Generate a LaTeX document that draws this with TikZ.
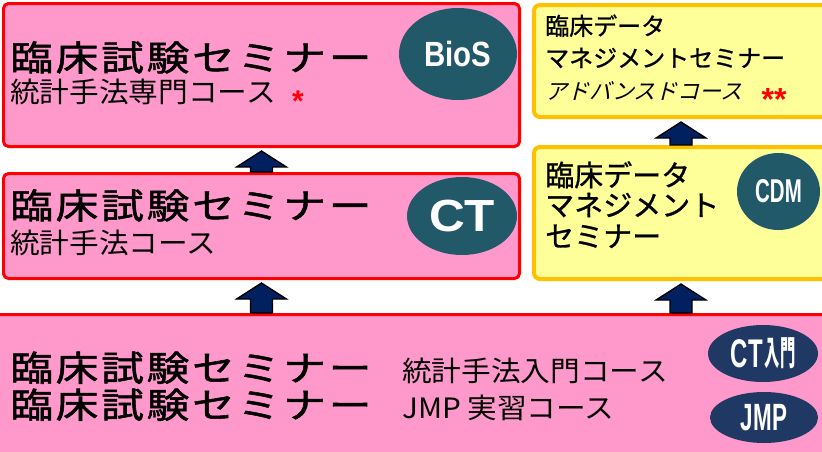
\documentclass[tikz,border=0pt]{standalone}
\usepackage{graphicx}
\usepackage{fontspec}
\setmainfont{Liberation Sans}
\newfontfamily\jp{Noto Sans CJK JP}
\newfontfamily\jph[FakeBold=1]{Noto Sans CJK JP}
\newfontfamily\jphw[FakeBold=1.5,FakeStretch=1.22,LetterSpace=8]{Noto Sans CJK JP}
\newfontfamily\jpw[FakeStretch=1.06]{Noto Sans CJK JP}
\newfontfamily\jpit[FakeSlant=0.25]{Noto Sans CJK JP}
\usetikzlibrary{shapes.geometric,calc}
\definecolor{pinkf}{HTML}{FF99CC}
\definecolor{redl}{HTML}{FF0000}
\definecolor{yelf}{HTML}{FFFF99}
\definecolor{orl}{HTML}{FFC000}
\definecolor{tealc}{HTML}{215968}
\definecolor{navyc}{HTML}{203864}
\definecolor{arrowc}{HTML}{002060}
\newcommand\blockarrow[2]{%
  \path[arrowst] let \p1=(#1.north), \p2=(#2.south) in
    (\x2-11pt,\y1) -- (\x2-11pt,\y2-19pt) -- (\x2-25pt,\y2-19pt) -- (\x2,\y2-3pt)
    -- (\x2+25pt,\y2-19pt) -- (\x2+11pt,\y2-19pt) -- (\x2+11pt,\y1) -- cycle;}
\begin{document}
\begin{tikzpicture}[x=1pt,y=-1pt,
  pinkbox/.style={draw=redl, fill=pinkf, line width=3pt, rounded corners=5pt, inner sep=0pt, anchor=north west},
  yelbox/.style={draw=orl, fill=yelf, line width=4pt, rounded corners=6pt, inner sep=0pt, anchor=north west},
  logoT/.style={ellipse, fill=tealc, text=white, inner sep=0pt, font=\bfseries},
  logoN/.style={ellipse, fill=navyc, text=white, inner sep=0pt, font=\bfseries},
  arrowst/.style={draw=black, fill=arrowc, line width=1.3pt, line join=miter},
  h1/.style={anchor=base west, inner sep=0pt, font=\jphw\fontsize{35}{40}\selectfont},
  h2/.style={anchor=base west, inner sep=0pt, font=\jpw\fontsize{28}{32}\selectfont},
  y1/.style={anchor=base west, inner sep=0pt, font=\jph\fontsize{24}{28}\selectfont},
  y2/.style={anchor=base west, inner sep=0pt, font=\jpit\fontsize{22}{26}\selectfont},
  c1/.style={anchor=base west, inner sep=0pt, font=\jph\fontsize{29}{32}\selectfont},
  star/.style={anchor=base, inner sep=0pt, text=redl, font=\bfseries\fontsize{30}{30}\selectfont}
]
\useasboundingbox (0,0) rectangle (822,451);
\clip (0,0) rectangle (822,451);
% boxes
\node[pinkbox, minimum width=516pt, minimum height=143pt] (bios) at (2,2) {};
\node[pinkbox, minimum width=516pt, minimum height=105pt] (ct) at (2,172) {};
\node[pinkbox, minimum width=838pt, minimum height=158pt] (base) at (-8,313) {};
\node[yelbox, minimum width=294pt, minimum height=112pt] (adv) at (532,3) {};
\node[yelbox, minimum width=294pt, minimum height=132pt] (cdm) at (532,145) {};
% arrows
\blockarrow{ct}{bios}
\blockarrow{base}{ct}
\blockarrow{cdm}{adv}
\blockarrow{base}{cdm}
% BioS box
\node[h1] (bt1) at (10,70.7) {臨床試験セミナー};
\node[h2] (bt2) at (10,102.6) {統計手法専門コース};
\node[star] (bst) at (298,111) {*};
\node[logoT, minimum width=118pt, minimum height=92pt] (bioslogo) at (458,54) {\fontsize{35}{35}\selectfont\scalebox{0.84}[1]{BioS}};
% CT box
\node[h1] (ct1) at (10,218.7) {臨床試験セミナー};
\node[h2] (ct2) at (10,253.6) {統計手法コース};
\node[logoT, minimum width=110pt, minimum height=78pt] (ctlogo) at (462,216) {\fontsize{45}{45}\selectfont\scalebox{1.1}[1]{CT}};
% advanced box
\node[y1] (a1) at (545,35) {臨床データ};
\node[y1] (a2) at (545,67) {マネジメントセミナー};
\node[y2] (a3) at (545,99) {アドバンスドコース};
\node[star, font=\bfseries\fontsize{32}{32}\selectfont] (ast) at (774,110) {**};
% CDM box
\node[c1] (c1) at (545,186) {臨床データ};
\node[c1] (c2) at (545,216) {マネジメント};
\node[c1] (c3) at (545,247) {セミナー};
\node[logoT, minimum width=83pt, minimum height=77pt] (cdmlogo) at (778.5,191.5) {\fontsize{33}{33}\selectfont\scalebox{0.62}[1]{CDM}};
% base box
\node[h1] (l1) at (10,381) {臨床試験セミナー};
\node[h2] (l1b) at (402,381) {統計手法入門コース};
\node[h1] (l2) at (10,418) {臨床試験セミナー};
\node[h2] (l2b) at (402,418) {JMP 実習コース};
\node[logoN, minimum width=110pt, minimum height=57pt] (ctin) at (763,353.5) {\fontsize{40}{40}\selectfont\scalebox{0.6}[1]{CT}\hspace{2pt}\raisebox{2pt}{\jp\bfseries\fontsize{34}{34}\selectfont\scalebox{0.45}[1]{入門}}};
\node[logoN, minimum width=108pt, minimum height=51pt] (jmp) at (764,417.5) {\fontsize{38}{38}\selectfont\scalebox{0.59}[1]{JMP}};
\end{tikzpicture}
\end{document}
